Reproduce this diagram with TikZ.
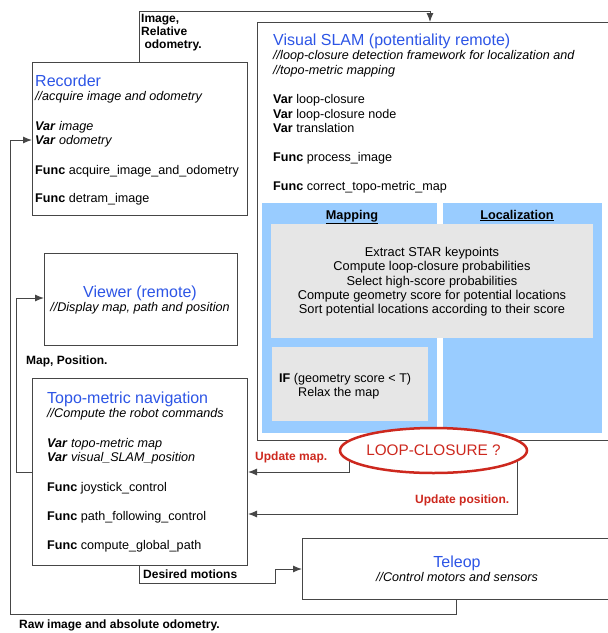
\documentclass[tikz,border=0pt]{standalone}
\usepackage{fontspec}
\setmainfont{Liberation Sans}
\usetikzlibrary{shapes.geometric,arrows.meta}
\definecolor{ttlblue}{RGB}{45,85,230}
\definecolor{lcred}{RGB}{205,40,30}
\definecolor{zoneblue}{RGB}{153,204,255}
\definecolor{procgray}{RGB}{230,230,230}
\definecolor{wiregray}{RGB}{70,70,70}
\newcommand{\boxtitle}[1]{{\fontsize{16}{14.5}\selectfont\color{ttlblue}#1}}

\begin{document}
\begin{tikzpicture}[x=1pt,y=-1pt,>={Latex[length=9pt,width=7pt]},
    box/.style={draw=wiregray,line width=1pt,fill=white,anchor=north west,inner sep=0pt},
    zone/.style={fill=#1,anchor=north west,inner sep=0pt},
    txt/.style={anchor=north west,align=left,inner sep=0pt,font=\fontsize{12.6}{14.5}\selectfont},
    ctxt/.style={anchor=north,align=center,inner sep=0pt,font=\fontsize{12.6}{14.4}\selectfont},
    lbl/.style={anchor=base west,align=left,inner sep=0pt,font=\fontsize{12}{13}\selectfont\bfseries},
    wire/.style={draw=wiregray,line width=1pt}]
  \clip (0,0) rectangle (608,633);
  \node[box,minimum width=215,minimum height=153] (rec)    at (32,62)  {};
  \node[box,minimum width=360,minimum height=418] (vslam)  at (257,22) {};
  \node[box,minimum width=193,minimum height=92]  (viewer) at (44,253) {};
  \node[box,minimum width=215,minimum height=187] (topo)   at (32,378) {};
  \node[box,minimum width=320,minimum height=61]  (teleop) at (302,538) {};
  \node[zone=zoneblue,minimum width=175,minimum height=230] (mapzone) at (262,203) {};
  \node[zone=zoneblue,minimum width=159,minimum height=230] (loczone) at (443,203) {};
  \node[zone=procgray,minimum width=322,minimum height=114] (proc)    at (271,224) {};
  \node[zone=procgray,minimum width=156,minimum height=74]  (relax)   at (272,347) {};

  \node[txt] (rectxt) at (35,74.3) {\boxtitle{Recorder}\\
    \textit{//acquire image and odometry}\\[15pt]
    \textbf{\textit{Var}} \textit{image}\\
    \textbf{\textit{Var}} \textit{odometry}\\[15pt]
    \textbf{Func} acquire\_image\_and\_odometry\\[14pt]
    \textbf{Func} detram\_image};
  \node[txt] (vslamtxt) at (273,33.3) {\boxtitle{Visual SLAM (potentiality remote)}\\
    \textit{//loop-closure detection framework for localization and}\\
    \textit{//topo-metric mapping}\\[15pt]
    \textbf{Var} loop-closure\\
    \textbf{Var} loop-closure node\\
    \textbf{Var} translation\\[14.5pt]
    \textbf{Func} process\_image\\[14.5pt]
    \textbf{Func} correct\_topo-metric\_map};
  \node[txt] (topotxt) at (47,391.3) {\boxtitle{Topo-metric navigation}\\
    \textit{//Compute the robot commands}\\[15pt]
    \textbf{\textit{Var}} \textit{topo-metric map}\\
    \textbf{\textit{Var}} \textit{visual\_SLAM\_position}\\[15pt]
    \textbf{Func} joystick\_control\\[14.5pt]
    \textbf{Func} path\_following\_control\\[14.5pt]
    \textbf{Func} compute\_global\_path};
  \node[ctxt] (viewertxt) at (140,285.3) {\boxtitle{Viewer (remote)}\\
    \textit{//Display map, path and position}};
  \node[ctxt] (teleoptxt) at (457,555.3) {\boxtitle{Teleop}\\
    \textit{//Control motors and sensors}};
  \node[ctxt,font=\fontsize{12.8}{14.3}\selectfont] (proctxt) at (432,247) {Extract STAR keypoints\\
    Compute loop-closure probabilities\\
    Select high-score probabilities\\
    Compute geometry score for potential locations\\
    Sort potential locations according to their score};
  \node[txt] (relaxtxt) at (279,373) {\textbf{IF} (geometry score < T)\\
    \hspace{19pt}Relax the map};
  \node[anchor=base,inner sep=0pt,font=\fontsize{12.7}{13}\selectfont\bfseries] (maplbl) at (352,219) {\underline{Mapping}};
  \node[anchor=base,inner sep=0pt,font=\fontsize{12.7}{13}\selectfont\bfseries] (loclbl) at (517,219) {\underline{Localization}};

  \coordinate (imgup)   at (139,11);
  \coordinate (imgdn)   at (430,11);
  \coordinate (umap)    at (349,472);
  \coordinate (upos)    at (517,514);
  \coordinate (mapout)  at (16,472);
  \coordinate (mapin)   at (16,298);
  \coordinate (desout)  at (139,583);
  \coordinate (desmid)  at (275,583);
  \coordinate (desin)   at (275,569);
  \coordinate (rawout)  at (456,614);
  \coordinate (rawmid)  at (10,614);
  \coordinate (rawin)   at (10,140);
  \draw[wire,->] (rec.north -| imgup) -- (imgup) -- (imgdn) -- (imgdn |- vslam.north);
  \draw[wire,->] (umap |- vslam.south) -- (umap) -- (umap -| topo.east);
  \draw[wire,->] (upos |- vslam.south) -- (upos) -- (upos -| topo.east);
  \draw[wire,->] (mapout -| topo.west) -- (mapout) -- (mapin) -- (mapin -| viewer.west);
  \draw[wire,->] (desout |- topo.south) -- (desout) -- (desmid) -- (desin) -- (desin -| teleop.west);
  \draw[wire,->] (rawout |- teleop.south) -- (rawout) -- (rawmid) -- (rawin) -- (rawin -| rec.west);

  \node[draw=lcred,line width=2.5pt,fill=white,ellipse,inner sep=0pt,minimum width=187,minimum height=45,
    text=lcred,font=\fontsize{15.3}{15}\selectfont] (lc) at (433.5,450.5) {\makebox[100pt][c]{LOOP-CLOSURE ?}};

  \node[lbl,anchor=north west] (imglbl) at (141,14.4) {Image,\\Relative\\\ odometry.};
  \node[lbl] (mappos) at (26,364) {Map, Position.};
  \node[lbl] (deslbl) at (143,578) {Desired motions};
  \node[lbl] (rawlbl) at (19,628) {Raw image and absolute odometry.};
  \node[lbl,text=lcred] (umaplbl) at (255,460) {Update map.};
  \node[lbl,text=lcred] (uposlbl) at (415,503) {Update position.};
\end{tikzpicture}
\end{document}
